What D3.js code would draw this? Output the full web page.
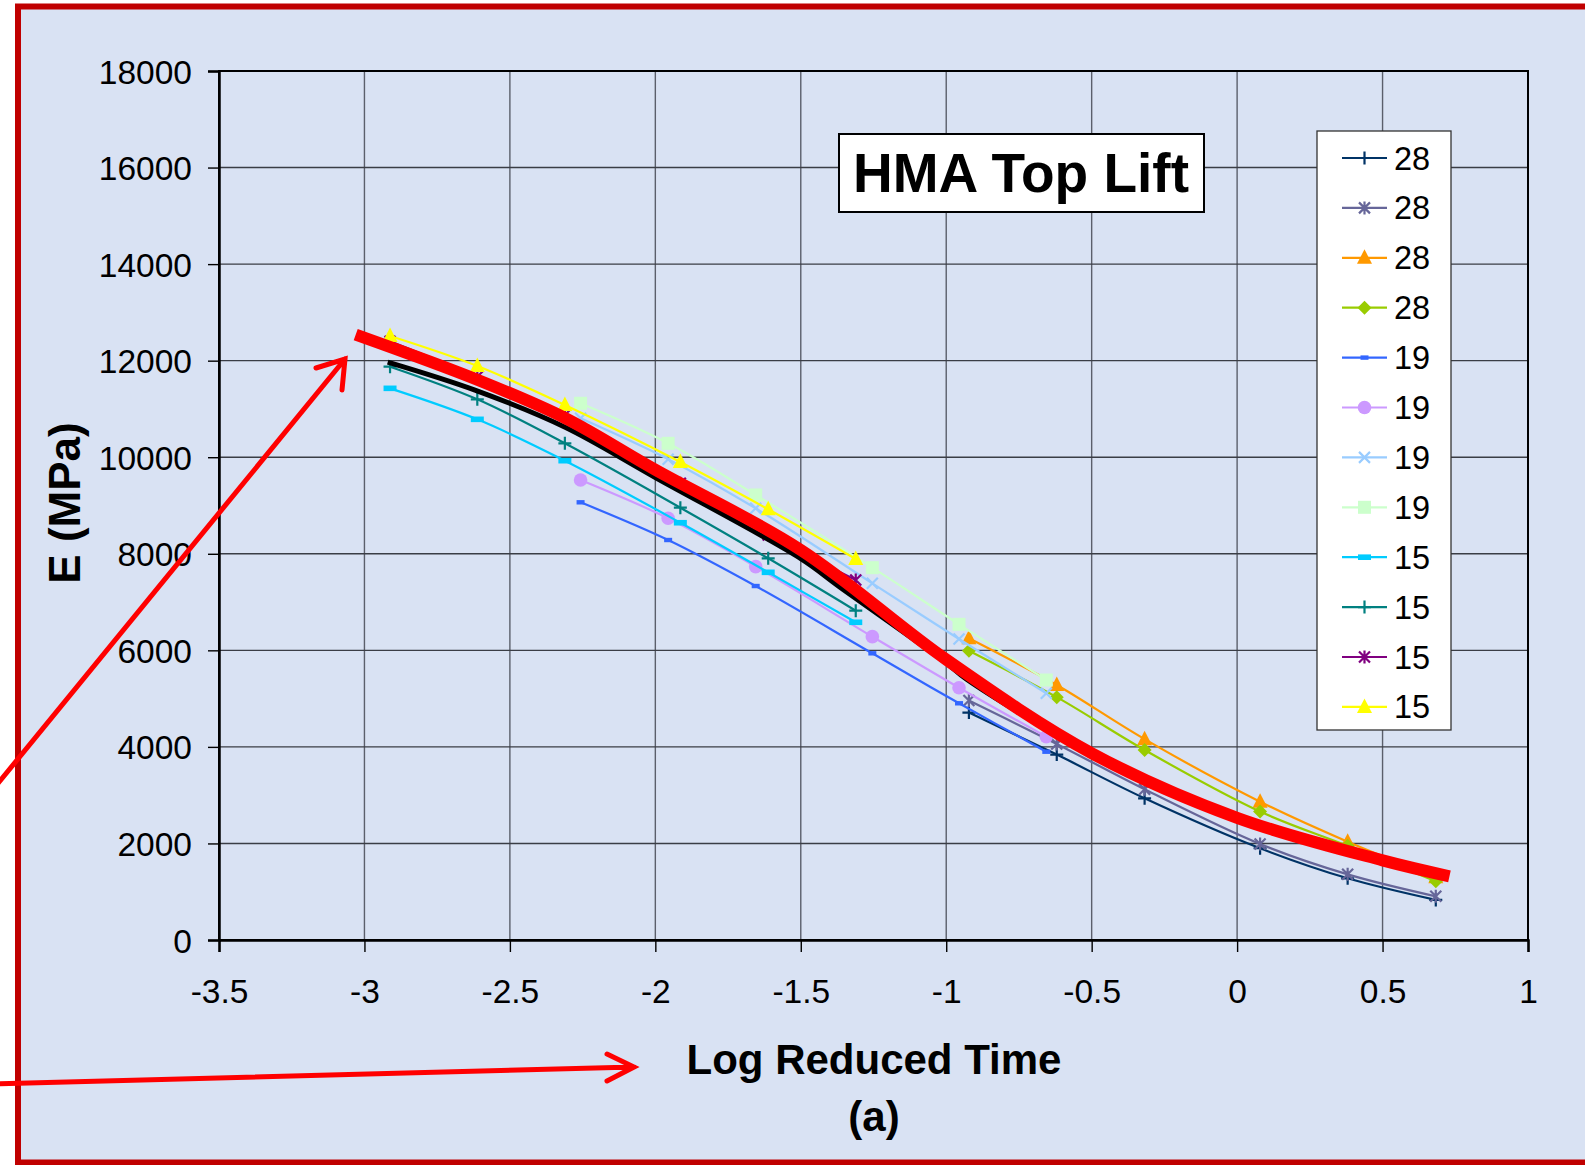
<!DOCTYPE html>
<html>
<head>
<meta charset="utf-8">
<script src="https://cdn.jsdelivr.net/npm/d3@7"></script>
<style>
body { margin: 0; background: #fff; }
svg { display: block; font-family: "Liberation Sans", Arial, sans-serif; }
</style>
</head>
<body>
<svg id="chart" width="1585" height="1165"></svg>
<script>
var xTicks = [-3.5, -3, -2.5, -2, -1.5, -1, -0.5, 0, 0.5, 1];
var yTicks = [0, 2000, 4000, 6000, 8000, 10000, 12000, 14000, 16000, 18000];

// log reduced time of each test temperature group
var time28 = [-0.922, -0.62, -0.318, 0.079, 0.38, 0.683];
var time19 = [-2.257, -1.956, -1.655, -1.254, -0.956, -0.656];
var time15 = [-2.912, -2.612, -2.311, -1.914, -1.612, -1.311];

var legendLabels = ["28", "28", "28", "28", "19", "19", "19", "19", "15", "15", "15", "15"];
var seriesTimes = [time28, time28, time28, time28, time19, time19, time19, time19, time15, time15, time15, time15];
var seriesColors = ["#003366", "#666699", "#FF9900", "#99CC00", "#3366FF", "#CC99FF", "#99CCFF", "#CCFFCC", "#00CCFF", "#008080", "#800080", "#FFFF00"];
var seriesMarkers = ["plus", "star", "triangle", "diamond", "dash", "circle", "cross", "square", "bar", "plus", "star", "triangle"];
var seriesValues = [
	[4710, 3840, 2935, 1900, 1278, 830],
	[4960, 4060, 3121, 1988, 1360, 905],
	[6250, 5282, 4160, 2865, 2036, 1300],
	[5990, 5030, 3935, 2660, 1950, 1215],
	[9066, 8285, 7332, 5938, 4903, 3900],
	[9528, 8735, 7733, 6283, 5226, 4211],
	[10806, 9960, 8942, 7388, 6235, 5110],
	[11117, 10288, 9218, 7712, 6539, 5385],
	[11427, 10785, 9928, 8643, 7616, 6581],
	[11875, 11199, 10288, 8954, 7906, 6821],
	[12400, 11668, 10874, 9459, 8389, 7457],
	[12510, 11889, 11082, 9900, 8921, 7892]
];

// black fitted curve
var fitTime = [-2.92, -2.62, -2.31, -2.0, -1.5, -1.37, -1.0, -0.93, -0.5, 0, 0.5, 0.72];
var fitE = [11970, 11390, 10620, 9580, 7900, 7330, 5740, 5400, 3860, 2520, 1640, 1320];

// red master curve
var masterTime = [-3.03, -2.61, -2.31, -2.0, -1.5, -1.0, -0.5, 0, 0.5, 0.73];
var masterE = [12540, 11600, 10810, 9740, 8080, 5810, 3870, 2530, 1650, 1320];

var svg = d3.select("#chart");
var bg = "#D9E2F3";

svg.append("rect").attr("width", 1585).attr("height", 1165).attr("fill", "#fff");
svg.append("rect")
	.attr("x", 18).attr("y", 6.5)
	.attr("width", 1620).attr("height", 1156)
	.attr("fill", bg)
	.attr("stroke", "#C00000")
	.attr("stroke-width", 6);

var x = d3.scaleLinear().domain([-3.5, 1]).range([219, 1528]);
var y = d3.scaleLinear().domain([0, 18000]).range([940, 71]);

// grid
svg.append("g").selectAll("line").data(xTicks).enter().append("line")
	.attr("x1", d => x(d)).attr("x2", d => x(d))
	.attr("y1", y(0)).attr("y2", y(18000))
	.attr("stroke", "#5b5f6b").attr("stroke-width", 1.4);
svg.append("g").selectAll("line").data(yTicks).enter().append("line")
	.attr("x1", x(-3.5)).attr("x2", x(1))
	.attr("y1", d => y(d)).attr("y2", d => y(d))
	.attr("stroke", "#3a3d45").attr("stroke-width", 1.4);

svg.append("rect")
	.attr("x", x(-3.5)).attr("y", y(18000))
	.attr("width", x(1) - x(-3.5)).attr("height", y(0) - y(18000))
	.attr("fill", "none").attr("stroke", "#000").attr("stroke-width", 2);

var yAxis = svg.append("g")
	.attr("transform", `translate(${x(-3.5)},0)`)
	.call(d3.axisLeft(y).tickValues(yTicks).tickSize(11).tickPadding(16).tickFormat(d => String(d)));
var xAxis = svg.append("g")
	.attr("transform", `translate(0,${y(0)})`)
	.call(d3.axisBottom(x).tickValues(xTicks).tickSize(12).tickPadding(27).tickFormat(d => String(d)));

[yAxis, xAxis].forEach(function(a) {
	a.select(".domain").attr("stroke", "#000").attr("stroke-width", 2.5);
	a.selectAll(".tick line").attr("stroke", "#000").attr("stroke-width", 1.4);
	a.selectAll(".tick text")
		.attr("fill", "#000")
		.style("font-family", "'Liberation Sans', Arial, sans-serif")
		.style("font-size", "33.5px");
});
yAxis.selectAll(".tick text").attr("dy", "0.36em");

function marker(sel, type, color) {
	if (type == "circle") {
		sel.append("circle").attr("r", 6.8).attr("fill", color);
	} else if (type == "square") {
		sel.append("rect").attr("x", -6.5).attr("y", -6.5).attr("width", 13).attr("height", 13).attr("fill", color);
	} else if (type == "triangle") {
		sel.append("path").attr("d", "M0,-8.5L7.5,6H-7.5Z").attr("fill", color);
	} else if (type == "diamond") {
		sel.append("path").attr("d", "M0,-7L7,0L0,7L-7,0Z").attr("fill", color);
	} else if (type == "dash") {
		sel.append("rect").attr("x", -4).attr("y", -2.2).attr("width", 8).attr("height", 4.4).attr("fill", color);
	} else if (type == "bar") {
		sel.append("rect").attr("x", -6.5).attr("y", -2.8).attr("width", 13).attr("height", 5.6).attr("fill", color);
	} else {
		var d = type == "plus" ? "M-6.5,0H6.5M0,-6.5V6.5"
			: type == "star" ? "M0,-6.5V6.5M-5.5,-5.5L5.5,5.5M-5.5,5.5L5.5,-5.5"
			: "M-5.5,-5.5L5.5,5.5M-5.5,5.5L5.5,-5.5";
		sel.append("path").attr("d", d).attr("fill", "none").attr("stroke", color).attr("stroke-width", 2.2);
	}
}

var line = d3.line()
	.x(d => x(d[0]))
	.y(d => y(d[1]))
	.curve(d3.curveCatmullRom.alpha(0.5));

seriesValues.forEach(function(vals, i) {
	var pts = vals.map((v, j) => [seriesTimes[i][j], v]);
	var g = svg.append("g").attr("class", "series");
	g.append("path")
		.attr("d", line(pts))
		.attr("fill", "none")
		.attr("stroke", seriesColors[i])
		.attr("stroke-width", 2.2);
	g.selectAll("g.pt").data(pts).enter().append("g")
		.attr("class", "pt")
		.attr("transform", d => `translate(${x(d[0])},${y(d[1])})`)
		.each(function() { marker(d3.select(this), seriesMarkers[i], seriesColors[i]); });
});

svg.append("path")
	.attr("d", line(fitTime.map((t, j) => [t, fitE[j]])))
	.attr("fill", "none").attr("stroke", "#000").attr("stroke-width", 5);

svg.append("path")
	.attr("d", line(masterTime.map((t, j) => [t, masterE[j]])))
	.attr("fill", "none").attr("stroke", "#FF0000").attr("stroke-width", 12);

// title box
svg.append("rect")
	.attr("x", 839).attr("y", 134).attr("width", 365).attr("height", 78)
	.attr("fill", "#fff").attr("stroke", "#000").attr("stroke-width", 2);
svg.append("text")
	.attr("x", 1021).attr("y", 192)
	.attr("text-anchor", "middle")
	.style("font-size", "55px").style("font-weight", "bold")
	.text("HMA Top Lift");

// legend
var legend = svg.append("g");
legend.append("rect")
	.attr("x", 1317).attr("y", 131).attr("width", 134).attr("height", 599)
	.attr("fill", "#fff").attr("stroke", "#333").attr("stroke-width", 1.3);
var items = legend.selectAll("g.item").data(legendLabels).enter().append("g")
	.attr("class", "item")
	.attr("transform", (d, i) => `translate(0,${158 + i * 49.9})`);
items.append("line")
	.attr("x1", 1342).attr("x2", 1387)
	.attr("stroke", (d, i) => seriesColors[i]).attr("stroke-width", 2.2);
items.append("g")
	.attr("transform", "translate(1364.5,0)")
	.each(function(d, i) { marker(d3.select(this), seriesMarkers[i], seriesColors[i]); });
items.append("text")
	.attr("x", 1394).attr("y", 11.5)
	.style("font-size", "32.5px")
	.text(d => d);

// axis titles
svg.append("text")
	.attr("x", 874).attr("y", 1074)
	.attr("text-anchor", "middle")
	.style("font-size", "42px").style("font-weight", "bold")
	.text("Log Reduced Time");
svg.append("text")
	.attr("x", 874).attr("y", 1131)
	.attr("text-anchor", "middle")
	.style("font-size", "42px").style("font-weight", "bold")
	.text("(a)");
svg.append("text")
	.attr("transform", "translate(80,503) rotate(-90)")
	.attr("text-anchor", "middle")
	.style("font-size", "44px").style("font-weight", "bold")
	.text("E (MPa)");

// red pointer arrows
var arrows = svg.append("g")
	.attr("stroke", "#FF0000").attr("stroke-width", 5)
	.attr("stroke-linecap", "round").attr("fill", "none");
arrows.append("path").attr("d", "M-5,787L345,359M316,368L345,359L342,390");
arrows.append("path").attr("d", "M-5,1084L634,1067M607,1054L634,1067L607,1081");
</script>
</body>
</html>
